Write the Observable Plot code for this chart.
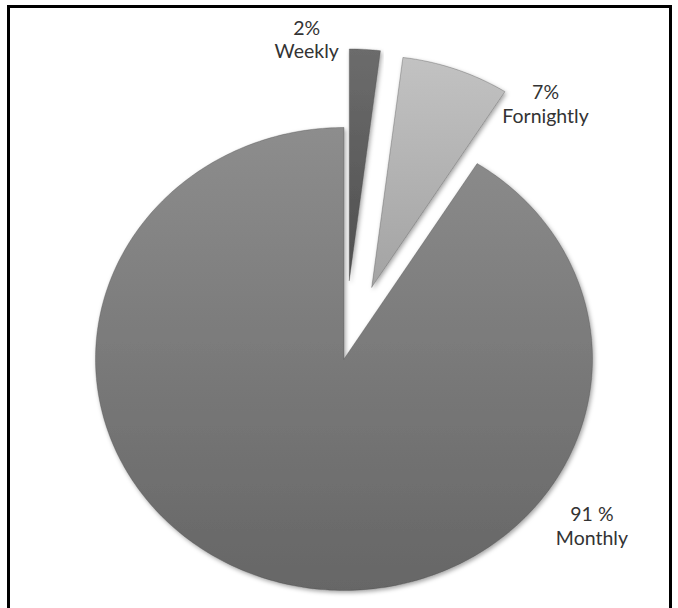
<!DOCTYPE html>
<html>
<head>
<meta charset="utf-8">
<script src="https://cdn.jsdelivr.net/npm/d3@7"></script>
<script src="https://cdn.jsdelivr.net/npm/@observablehq/plot@0.6"></script>
<style>
  html, body { margin: 0; padding: 0; background: #fff; }
  #wrap { position: relative; width: 678px; height: 608px; overflow: hidden; background: #fff; }
  #wrap svg { position: absolute; left: 0; top: 0; }
  #frame { position: absolute; left: 7px; top: 5px; width: 659px; height: 640px;
           border: 3px solid #000; pointer-events: none; }
</style>
</head>
<body>
<div id="wrap"><div id="chart"></div><div id="frame"></div></div>
<script>
// ---- data ----
const categories = ["Weekly", "Fornightly", "Monthly"];
const percents = [2, 7, 91];
const percentLabels = ["2%", "7%", "91 %"];

// ---- layout / style (not data) ----
const explode = [0.34, 0.33, 0];           // slice pull-out, in radius units
const labelPolar = [                        // label placement: angle (deg clockwise from 12h), radius factor
  {angle: -6.2, r: 1.39},
  {angle: 36.3, r: 1.37},
  {angle: 125.8, r: 1.23}
];
const gradients = [
  {id: "gWeekly", top: "#6c6c6c", bottom: "#4f4f4f"},
  {id: "gFort", top: "#c2c2c2", bottom: "#a3a3a3"},
  {id: "gMonthly", top: "#8d8d8d", bottom: "#666666"}
];

const pie = d3.pie().sort(null).value(d => d.value).startAngle(0).endAngle(2 * Math.PI);
const arcs = pie(categories.map((c, i) => ({category: c, value: percents[i], i})));

// Build slice outlines (apex + sampled arc) in unit-circle data space
const slices = arcs.map(a => {
  const mid = (a.startAngle + a.endAngle) / 2;
  const e = explode[a.data.i];
  const ox = e * Math.sin(mid), oy = e * Math.cos(mid);
  const pts = [{x: ox, y: oy}];
  const n = Math.max(4, Math.ceil((a.endAngle - a.startAngle) / (Math.PI / 180)));
  for (let k = 0; k <= n; k++) {
    const t = a.startAngle + (a.endAngle - a.startAngle) * k / n;
    pts.push({x: ox + Math.sin(t), y: oy + Math.cos(t)});
  }
  pts.push({x: ox, y: oy});
  return pts;
});

const labels = categories.map((c, i) => {
  const p = labelPolar[i];
  const t = p.angle * Math.PI / 180;
  return {x: p.r * Math.sin(t), y: p.r * Math.cos(t), text: percentLabels[i] + "\n" + c};
});

const plot = Plot.plot({
  width: 678,
  height: 608,
  marginLeft: 95,
  marginRight: 86,
  marginTop: 127,
  marginBottom: 18,
  x: {domain: [-1, 1], axis: null},
  y: {domain: [-1, 1], axis: null},
  style: {background: "transparent", overflow: "visible"},
  marks: [
    ...slices.map((pts, i) => Plot.line(pts, {
      x: "x", y: "y",
      fill: `url(#${gradients[i].id})`,
      stroke: "#4a4a4a", strokeOpacity: 0.35, strokeWidth: 1,
      curve: "linear"
    })),
    Plot.text(labels, {
      x: "x", y: "y", text: "text",
      fontSize: 19.5, lineHeight: 1.2,
      fontFamily: "Lato, 'Open Sans', sans-serif",
      fill: "#333333"
    })
  ]
});

// gradients and soft shadow
const svg = d3.select(plot);
const defs = svg.insert("defs", ":first-child");
gradients.forEach(g => {
  const lg = defs.append("linearGradient").attr("id", g.id)
    .attr("x1", 0).attr("y1", 0).attr("x2", 0).attr("y2", 1);
  lg.append("stop").attr("offset", "0%").attr("stop-color", g.top);
  lg.append("stop").attr("offset", "100%").attr("stop-color", g.bottom);
});
const f = defs.append("filter").attr("id", "shadow")
  .attr("x", "-10%").attr("y", "-10%").attr("width", "120%").attr("height", "120%");
f.append("feDropShadow").attr("dx", 1.5).attr("dy", 2).attr("stdDeviation", 2)
  .attr("flood-color", "#000").attr("flood-opacity", 0.35);
svg.selectAll("path").attr("filter", "url(#shadow)");

document.getElementById("chart").appendChild(plot);
</script>
</body>
</html>
